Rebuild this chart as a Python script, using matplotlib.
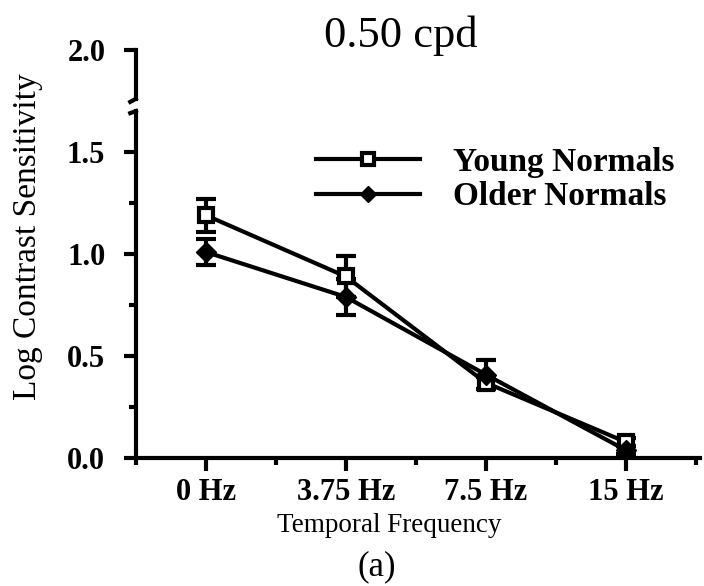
import matplotlib
matplotlib.use("Agg")
import matplotlib.pyplot as plt
from matplotlib.lines import Line2D
import numpy as np

plt.rcParams['font.family'] = ['Liberation Serif', 'DejaVu Serif']

# data
freqs = ["0 Hz", "3.75 Hz", "7.5 Hz", "15 Hz"]
young = [1.19, 0.89, 0.37, 0.08]
young_err = [0.08, 0.10, 0.03, 0.02]
older = [1.01, 0.79, 0.41, 0.04]
older_err = [0.065, 0.09, 0.07, 0.02]

x = np.arange(len(freqs))

fig = plt.figure(figsize=(7.04, 5.86), dpi=100)
ax = fig.add_axes([0.193, 0.218, 0.801, 0.697])

lw = 3
ax.errorbar(x, young, yerr=young_err, color='black', lw=lw, marker='s', ms=10,
            mfc='white', mec='black', mew=3, capsize=7, capthick=3, elinewidth=3,
            zorder=3)
ax.errorbar(x, older, yerr=older_err, color='black', lw=lw, marker='D', ms=10,
            mfc='black', mec='black', capsize=7, capthick=3, elinewidth=3,
            zorder=3)

ax.set_xlim(-0.5, 3.53)
ax.set_ylim(0, 2.0)

ax.spines['top'].set_visible(False)
ax.spines['right'].set_visible(False)
ax.spines['left'].set_visible(False)
ax.spines['bottom'].set_linewidth(3)

# broken y axis drawn by hand
tr = ax.get_yaxis_transform()
ax.plot([0, 0], [0, 1.70], transform=tr, color='black', lw=3, clip_on=False)
ax.plot([0, -0.01], [1.70, 1.69], transform=tr, color='black', lw=3, clip_on=False)
ax.plot([0, 0], [1.76, 2.0], transform=tr, color='black', lw=3, clip_on=False)
ax.plot([0, -0.01], [1.76, 1.745], transform=tr, color='black', lw=3, clip_on=False)

ax.set_xticks(x)
ax.set_xticklabels(freqs, fontweight='bold')
ax.set_xticks(np.arange(-0.5, 3.6, 1.0), minor=True)
ax.set_yticks([0.0, 0.5, 1.0, 1.5, 2.0])
ax.set_yticklabels(["0.0", "0.5", "1.0", "1.5", "2.0"], fontweight='bold')
ax.set_yticks([0.25, 0.75, 1.25], minor=True)

ax.tick_params(which='major', length=9, width=3, labelsize=22, pad=5)
ax.tick_params(axis='y', which='major', pad=13)
ax.tick_params(which='minor', length=5, width=3)

ax.set_xlabel("Temporal Frequency", fontsize=19.5)
ax.xaxis.set_label_coords(0.449, -0.135)
ax.set_ylabel("Log Contrast Sensitivity", fontsize=24)
ax.yaxis.set_label_coords(-0.165, 0.542)
fig.text(0.535, 0.018, "(a)", fontsize=25, ha='center')
fig.text(0.570, 0.920, "0.50 cpd", fontsize=32, ha='center', va='baseline')

handles = [
    Line2D([], [], color='black', lw=3, marker='s', ms=8, mfc='white', mec='black', mew=3),
    Line2D([], [], color='black', lw=3, marker='D', ms=8, mfc='black', mec='black'),
]
ax.legend(handles, ["Young Normals", "Older Normals"], loc='upper left',
          bbox_to_anchor=(0.32, 0.762), frameon=False,
          prop={'size': 24, 'weight': 'bold'}, handlelength=3.1,
          handletextpad=1.0, labelspacing=0.1, borderpad=0, borderaxespad=0)

fig.savefig("out.png", dpi=100)
